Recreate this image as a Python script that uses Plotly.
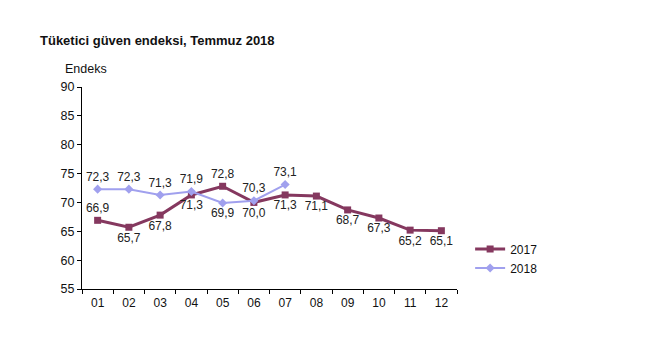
import plotly.graph_objects as go

months = ["01", "02", "03", "04", "05", "06", "07", "08", "09", "10", "11", "12"]
values_2017 = [66.9, 65.7, 67.8, 71.3, 72.8, 70.0, 71.3, 71.1, 68.7, 67.3, 65.2, 65.1]
months_2018 = ["01", "02", "03", "04", "05", "06", "07"]
values_2018 = [72.3, 72.3, 71.3, 71.9, 69.9, 70.3, 73.1]
pos_2017 = ["top center", "bottom center", "bottom center", "bottom center", "top center", "bottom center",
            "bottom center", "bottom center", "bottom center", "bottom center", "bottom center", "bottom center"]
pos_2018 = ["top center", "top center", "top center", "top center", "bottom center", "top center", "top center"]

c2017 = "#85385F"
c2018 = "#A0A0EE"
font = "Liberation Sans, Arial, sans-serif"

fig = go.Figure()
fig.add_trace(go.Scatter(
    x=months, y=values_2017, name="2017", mode="lines+markers+text",
    line=dict(color=c2017, width=3), marker=dict(symbol="square", size=7, color=c2017),
    texttemplate="%{y:.1f}", textposition=pos_2017,
    textfont=dict(family=font, size=12, color="#222"), cliponaxis=False))
fig.add_trace(go.Scatter(
    x=months_2018, y=values_2018, name="2018", mode="lines+markers+text",
    line=dict(color=c2018, width=2), marker=dict(symbol="diamond", size=7, color=c2018),
    texttemplate="%{y:.1f}", textposition=pos_2018,
    textfont=dict(family=font, size=12, color="#222"), cliponaxis=False))

fig.update_layout(
    width=650, height=360, separators=", ",
    paper_bgcolor="white", plot_bgcolor="white",
    margin=dict(l=74, r=201, t=79, b=79),
    font=dict(family=font, size=11, color="#111"),
    title=dict(text="<b>Tüketici güven endeksi, Temmuz 2018</b>", xref="container", yref="container",
               x=32/650, xanchor="left", y=1-32/360, yanchor="middle",
               font=dict(family=font, size=13, color="#111")),
    showlegend=True,
    legend=dict(x=1.035, y=0.27, xanchor="left", yanchor="top", bgcolor="rgba(0,0,0,0)",
                font=dict(family=font, size=12, color="#111"), tracegroupgap=4, itemwidth=30),
    xaxis=dict(type="category", categoryorder="array", categoryarray=months, range=[-0.5, 11.5],
               showline=True, linecolor="black", linewidth=1, ticks="outside", tickson="boundaries",
               ticklen=4, tickcolor="black", showgrid=False, zeroline=False, ticklabelstandoff=3,
               tickfont=dict(family=font, size=12, color="#111")),
    yaxis=dict(range=[55, 90], dtick=5, showline=True, linecolor="black", linewidth=1,
               ticks="outside", ticklen=4, tickcolor="black", showgrid=False, zeroline=False,
               tickfont=dict(family=font, size=12.5, color="#111")),
    annotations=[dict(text="Endeks", xref="paper", yref="paper", x=-0.05, y=(289-69)/202,
                      xanchor="left", yanchor="middle", showarrow=False,
                      font=dict(family=font, size=12.5, color="#111"))],
)

fig.write_html("out.html")
